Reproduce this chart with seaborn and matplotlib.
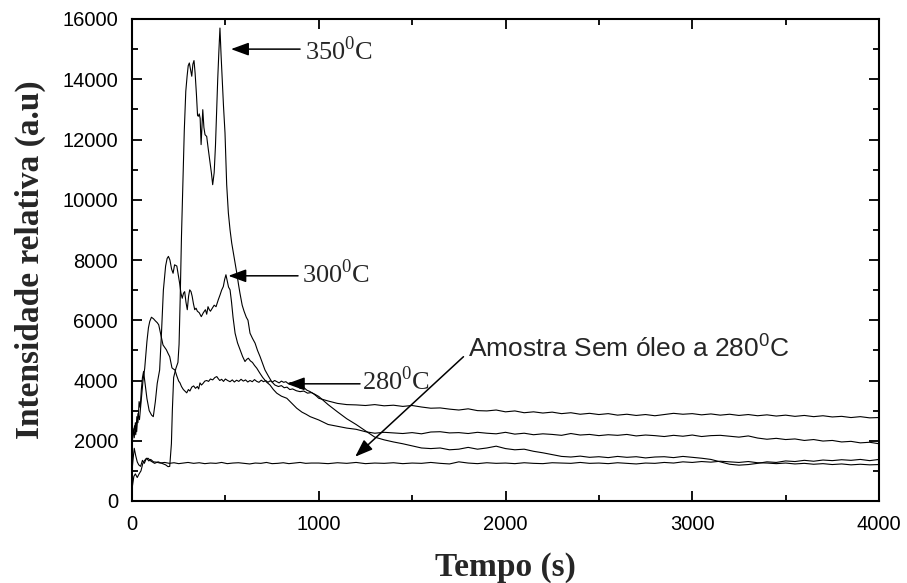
import pandas as pd
import matplotlib
matplotlib.use("Agg")
import matplotlib.pyplot as plt
import seaborn as sns
from matplotlib.ticker import MultipleLocator

# estilo
sns.set_style("ticks")
plt.rcParams['font.family'] = ['Liberation Sans', 'DejaVu Sans']
plt.rcParams['mathtext.fontset'] = 'custom'
plt.rcParams['mathtext.rm'] = 'Liberation Serif'
plt.rcParams['mathtext.sf'] = 'Liberation Sans'

# ---- dados ----
tail_t = [1000, 1050, 1100, 1150, 1200, 1250, 1300, 1350, 1400, 1450, 1500, 1550, 1600, 1650, 1700,
          1750, 1800, 1850, 1900, 1950, 2000, 2050, 2100, 2150, 2200, 2250, 2300, 2350, 2400, 2450,
          2500, 2550, 2600, 2650, 2700, 2750, 2800, 2850, 2900, 2950, 3000, 3050, 3100, 3150, 3200,
          3250, 3300, 3350, 3400, 3450, 3500, 3550, 3600, 3650, 3700, 3750, 3800, 3850, 3900, 3950, 4000]

# 350 C
t350 = [0, 6, 12, 20, 28, 36, 46, 56, 66, 76, 86, 100, 121, 140, 160, 180, 193, 202, 211, 216, 223, 235,
        246, 252, 258, 265, 272, 280, 288, 295, 301, 307, 314, 320, 326, 332, 338, 345, 351, 355, 360, 365,
        370, 375, 379, 385, 391, 400, 408, 418, 425, 432, 440, 447, 453, 459, 465, 471, 477, 484, 490, 498,
        507, 516, 525, 534, 543, 552, 561, 570, 578, 590, 600, 612, 621, 632, 645, 659, 672, 686, 700, 712,
        730, 748, 765, 784, 800, 815, 830, 845, 860, 880, 900, 920, 940, 960, 980]
v350 = [1000, 1400, 1750, 1500, 1300, 1200, 1150, 1350, 1250, 1400, 1420, 1330, 1250, 1300, 1250, 1200,
        1140, 1150, 1900, 3000, 4100, 4400, 4600, 5200, 6700, 8800, 10500, 12300, 13600, 14100, 14450,
        14540, 14300, 14100, 14500, 14620, 14200, 13500, 12800, 12770, 12850, 12700, 11830, 12500, 12990,
        12400, 12160, 12100, 11700, 11230, 10900, 10500, 10900, 11800, 12900, 14000, 14900, 15700, 14800,
        13900, 13100, 12220, 10500, 9560, 9000, 8560, 8230, 7900, 7570, 7200, 6900, 6500, 6300, 6100, 6000,
        5570, 5400, 5240, 5000, 4790, 4550, 4350, 4150, 3960, 3850, 3800, 3830, 3760, 3780, 3700, 3720,
        3660, 3630, 3650, 3580, 3600, 3540]
v350_tail = [3470, 3200, 2960, 2730, 2540, 2330, 2120, 2030, 1960, 1900, 1830, 1760, 1740, 1760, 1700,
             1720, 1780, 1720, 1760, 1820, 1740, 1700, 1720, 1650, 1600, 1540, 1480, 1460, 1490, 1450,
             1470, 1440, 1480, 1450, 1470, 1430, 1460, 1470, 1440, 1480, 1450, 1420, 1380, 1300, 1220,
             1190, 1210, 1250, 1300, 1280, 1330, 1310, 1350, 1320, 1360, 1340, 1370, 1350, 1380, 1340, 1380]

# 300 C
t300 = [0, 8, 14, 20, 26, 32, 38, 44, 50, 56, 62, 70, 80, 92, 105, 114, 125, 135, 148, 158, 168, 180,
        188, 195, 203, 212, 220, 228, 240, 248, 255, 262, 269, 276, 282, 289, 296, 303, 309, 316, 322, 329,
        336, 343, 350, 360, 371, 382, 393, 400, 407, 414, 420, 430, 440, 450, 462, 472, 480, 489, 496, 503,
        510, 517, 525, 533, 541, 552, 565, 579, 592, 605, 614, 623, 634, 645, 656, 668, 684, 700, 720, 739,
        757, 775, 800, 829, 855, 882, 910, 932, 954, 980]
v300 = [1900, 2300, 2500, 2200, 2800, 2600, 3300, 3100, 3700, 4100, 4300, 3900, 3400, 3000, 2850, 2800,
        3300, 3900, 4350, 5600, 7000, 7800, 8050, 8120, 8000, 7700, 7560, 7840, 7800, 7500, 7230, 6900,
        6730, 6900, 6950, 6600, 6350, 6800, 7010, 6950, 6800, 6550, 6350, 6400, 6300, 6250, 6120, 6250,
        6350, 6200, 6450, 6350, 6300, 6400, 6500, 6450, 6680, 6850, 7000, 7120, 7350, 7510, 7300, 7100,
        7010, 6600, 6100, 5570, 5250, 5020, 4800, 4630, 4700, 4740, 4650, 4600, 4500, 4410, 4250, 4100,
        3950, 3850, 3700, 3580, 3480, 3410, 3250, 3080, 2950, 2880, 2800, 2740]
v300_tail = [2690, 2540, 2480, 2420, 2380, 2300, 2250, 2280, 2260, 2240, 2270, 2230, 2290, 2300, 2260,
             2270, 2240, 2280, 2250, 2230, 2280, 2220, 2250, 2200, 2230, 2210, 2180, 2240, 2190, 2210,
             2170, 2200, 2180, 2210, 2160, 2190, 2170, 2140, 2180, 2150, 2190, 2140, 2170, 2180, 2150,
             2120, 2160, 2090, 2050, 2080, 2040, 2060, 2010, 2040, 1990, 2010, 1960, 1980, 1930, 1950, 1900]

# 280 C
t280 = [0, 6, 12, 18, 25, 32, 40, 50, 59, 68, 80, 88, 95, 104, 115, 125, 135, 143, 150, 157, 166, 175,
        184, 193, 202, 214, 222, 230, 240, 250, 257, 265, 275, 285, 293, 302, 310, 320, 330, 340, 350, 357,
        364, 372, 380, 390, 400, 410, 420, 432, 444, 454, 462, 470, 480, 490, 500, 512, 525, 537, 548, 560,
        572, 584, 596, 608, 620, 632, 644, 656, 668, 680, 692, 704, 716, 728, 740, 752, 764, 776, 788, 800,
        812, 824, 836, 850, 866, 882, 900, 918, 936, 954, 972, 988]
v280 = [2000, 2400, 2100, 2600, 2300, 2900, 2700, 3400, 4000, 4400, 5300, 5750, 5960, 6100, 6050, 5980,
        5920, 5850, 5650, 5460, 5180, 5100, 5020, 4900, 4790, 4420, 4380, 4350, 4150, 3980, 3920, 3800,
        3700, 3640, 3590, 3700, 3650, 3780, 3820, 3740, 3800, 3720, 3920, 3850, 3900, 3980, 4000, 3970,
        4050, 4020, 4100, 4130, 4060, 4000, 4040, 3970, 4050, 4000, 3960, 4020, 3950, 4010, 3970, 4040,
        3980, 4020, 3950, 4000, 3960, 4030, 3970, 3940, 4010, 3960, 4000, 3940, 3990, 3950, 4000, 3960,
        3920, 3980, 3940, 3960, 3900, 3930, 3880, 3850, 3740, 3780, 3680, 3630, 3560, 3480]
v280_tail = [3410, 3320, 3240, 3200, 3190, 3170, 3200, 3160, 3180, 3140, 3170, 3120, 3080, 3090, 3050,
             3020, 3060, 3000, 2990, 3020, 2960, 2990, 2930, 2960, 2920, 2950, 2900, 2930, 2880, 2910,
             2870, 2900, 2850, 2880, 2840, 2870, 2830, 2870, 2910, 2880, 2900, 2860, 2890, 2850, 2880,
             2840, 2870, 2830, 2860, 2820, 2850, 2810, 2840, 2800, 2830, 2790, 2810, 2770, 2800, 2760, 2770]

# amostra sem oleo 280 C
tsem = [0, 10, 18, 28, 38, 48, 58, 68, 78, 90, 100, 115, 130, 150, 175, 200, 225, 250, 275, 300, 330,
        360, 390, 420, 450, 480, 510, 540, 570, 600, 630, 660, 690, 720, 750, 780, 810, 840, 870, 900, 930, 960]
vsem = [400, 820, 900, 780, 900, 1000, 1250, 1350, 1420, 1330, 1380, 1300, 1290, 1260, 1280, 1250, 1270,
        1240, 1260, 1280, 1250, 1270, 1240, 1260, 1250, 1280, 1240, 1260, 1270, 1250, 1230, 1260, 1250,
        1280, 1240, 1250, 1270, 1240, 1260, 1280, 1250, 1260]
vsem_tail = [1260, 1240, 1270, 1250, 1280, 1240, 1260, 1250, 1270, 1240, 1260, 1250, 1280, 1250, 1230,
             1300, 1260, 1240, 1270, 1250, 1260, 1240, 1270, 1250, 1240, 1270, 1260, 1250, 1280, 1250,
             1260, 1240, 1270, 1250, 1230, 1260, 1250, 1280, 1260, 1300, 1280, 1310, 1290, 1320, 1300,
             1280, 1310, 1270, 1260, 1240, 1260, 1230, 1250, 1220, 1240, 1210, 1230, 1200, 1220, 1200, 1210]

curvas = {
    '350': (t350 + tail_t, v350 + v350_tail),
    '300': (t300 + tail_t, v300 + v300_tail),
    '280': (t280 + tail_t, v280 + v280_tail),
    'sem': (tsem + tail_t, vsem + vsem_tail),
}

frames = []
for nome, (t, v) in curvas.items():
    frames.append(pd.DataFrame({'Tempo': t, 'Intensidade': v, 'Curva': nome}))
df = pd.concat(frames, ignore_index=True)

# ---- figura ----
fig = plt.figure(figsize=(9.07, 5.83), dpi=100)
ax = fig.add_axes([132 / 907, 82 / 583, 747 / 907, 482 / 583])

sns.lineplot(data=df, x='Tempo', y='Intensidade', units='Curva', estimator=None, sort=False,
             color='black', linewidth=0.8, ax=ax)

ax.set_xlim(0, 4000)
ax.set_ylim(0, 16000)
ax.xaxis.set_major_locator(MultipleLocator(1000))
ax.xaxis.set_minor_locator(MultipleLocator(500))
ax.yaxis.set_major_locator(MultipleLocator(2000))
ax.yaxis.set_minor_locator(MultipleLocator(1000))
ax.tick_params(which='both', direction='in', top=True, right=True, width=1.3, colors='black')
ax.tick_params(which='major', length=7.5, labelsize=14.5, pad=10)
ax.tick_params(which='minor', length=4)
for s in ax.spines.values():
    s.set_linewidth(1.5)
    s.set_color('black')

serif_bold = dict(family='Liberation Serif', weight='bold', size=24)
ax.set_xlabel('Tempo (s)', labelpad=13, **serif_bold)
ax.set_ylabel('Intensidade relativa (a.u)', labelpad=12, **serif_bold)

# ---- setas e rótulos ----
seta = dict(arrowstyle='-|>,head_length=0.6,head_width=0.22', color='black', lw=1.1,
            shrinkA=0, shrinkB=0, mutation_scale=18)
ax.annotate('', xy=(530, 15000), xytext=(900, 15000), arrowprops=seta)
ax.annotate('', xy=(516, 7475), xytext=(889, 7475), arrowprops=seta)
ax.annotate('', xy=(829, 3890), xytext=(1221, 3890), arrowprops=seta)
ax.annotate('', xy=(1195, 1470), xytext=(1775, 4790), arrowprops=seta)

rot = dict(family='Liberation Serif', size=19, va='baseline', ha='left')
ax.text(927, 14650, r'350$^\mathrm{0}$C', **rot)
ax.text(910, 7250, r'300$^\mathrm{0}$C', **rot)
ax.text(1230, 3690, r'280$^\mathrm{0}$C', **rot)
ax.text(1800, 4790, r'Amostra Sem óleo a 280$^\mathsf{0}$C', family='Liberation Sans', size=19,
        va='baseline', ha='left')

plt.savefig('out.png', dpi=100)
